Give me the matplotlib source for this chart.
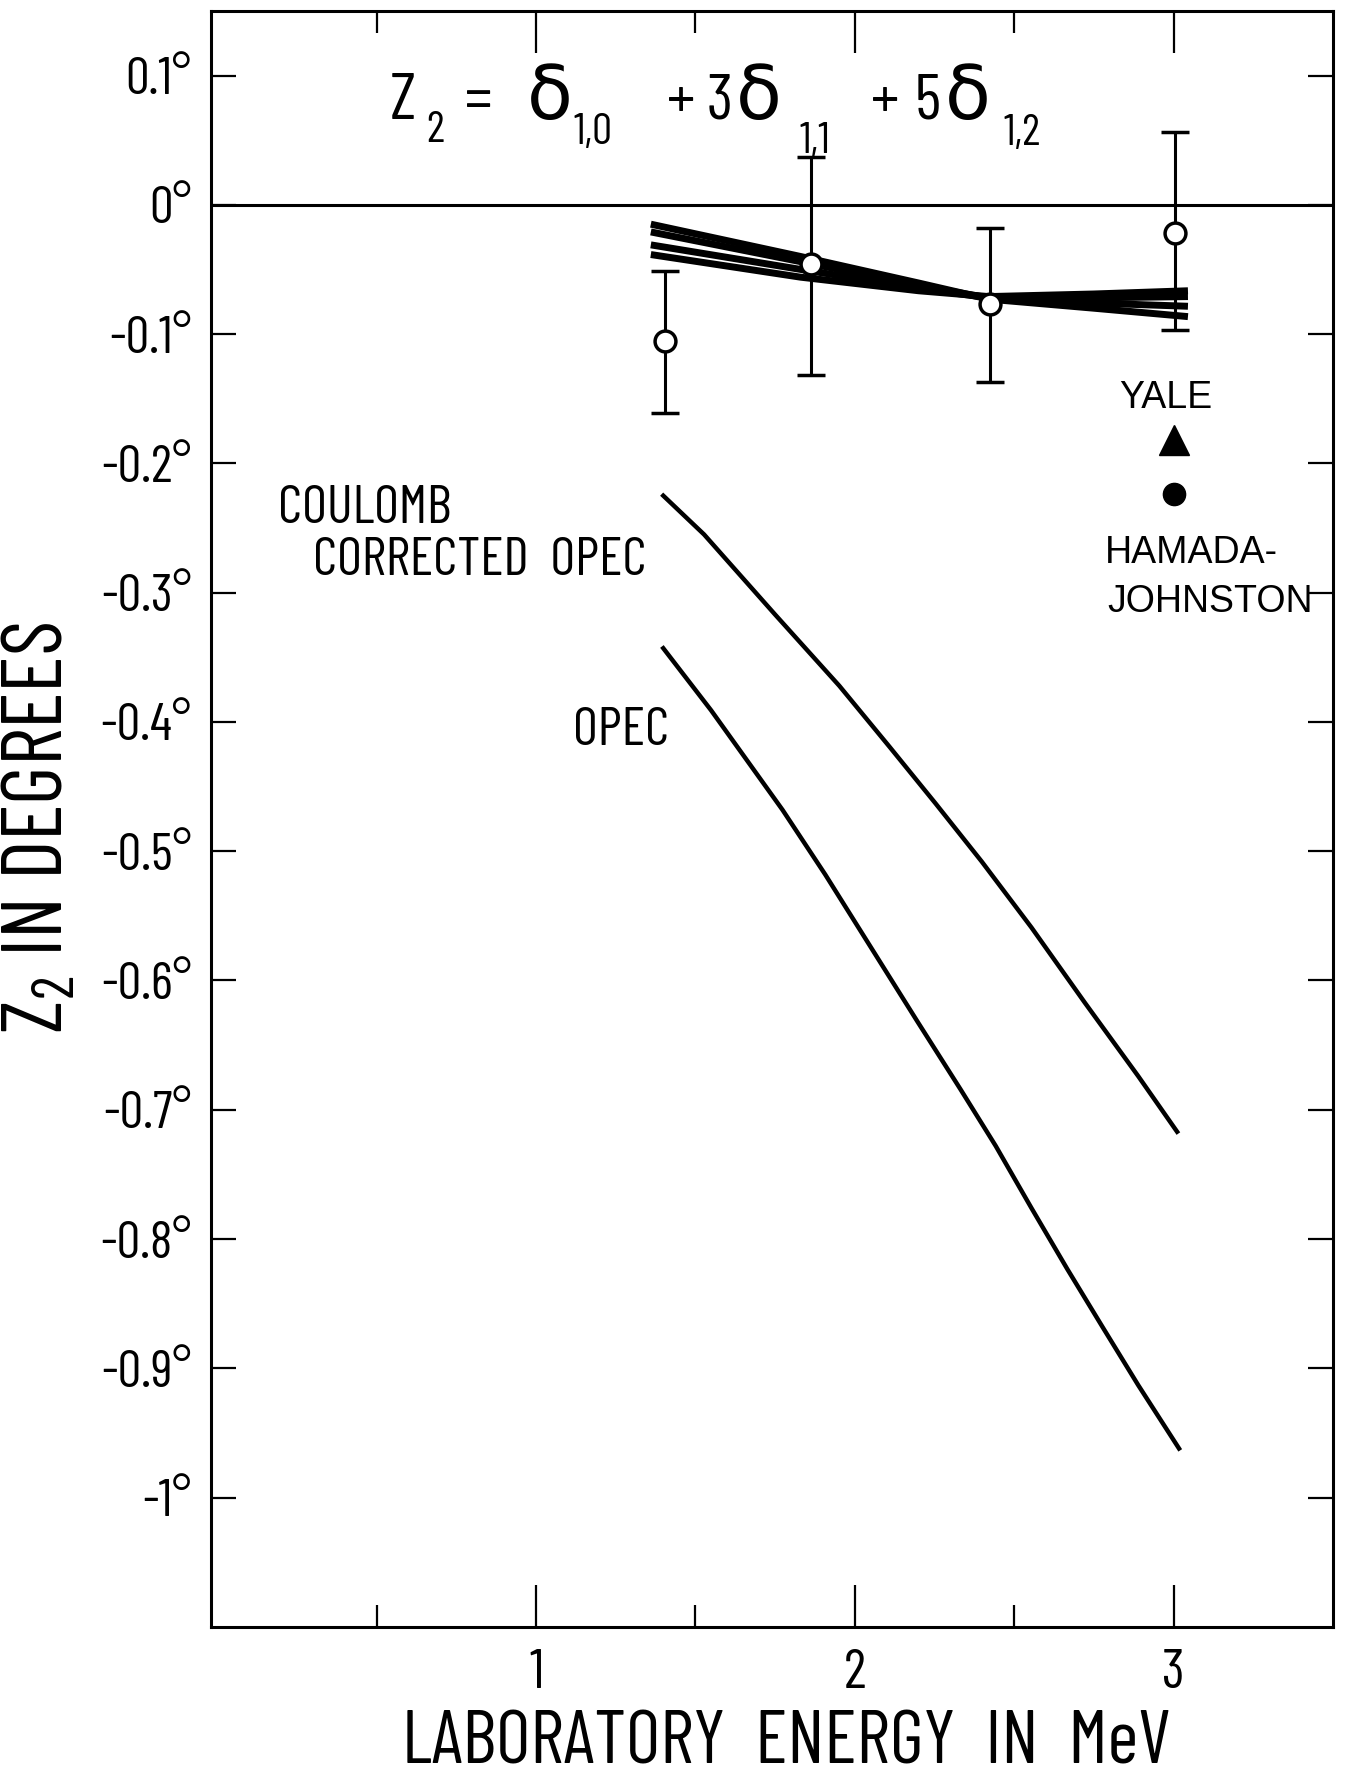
import matplotlib
matplotlib.use("Agg")
import matplotlib.pyplot as plt
from matplotlib import font_manager

# === Fonts: a condensed face for the hand lettering ===
names = {f.name for f in font_manager.fontManager.ttflist}
cands = ['Barlow Condensed', 'Roboto Condensed', 'Archivo Narrow', 'PT Sans Narrow',
         'Liberation Sans Narrow', 'Liberation Sans']
cond = next(c for c in cands if c in names)
plain = 'Liberation Sans'
plt.rcParams['font.family'] = [cond, 'DejaVu Sans']
plt.rcParams['font.weight'] = 'normal'
plt.rcParams['mathtext.fontset'] = 'custom'
plt.rcParams['mathtext.rm'] = cond
plt.rcParams['mathtext.it'] = cond

# === Data ===
# measured Z2 with error bars
energy_pts = [1.406, 1.863, 2.425, 3.003]
z2_pts = [-0.105, -0.046, -0.077, -0.022]
err_low = [0.056, 0.086, 0.060, 0.075]
err_high = [0.054, 0.083, 0.059, 0.078]

# bundle of phase-shift fits near zero
band_x = [1.36, 1.83, 2.20, 2.42, 2.75, 3.045]
band_a = [-0.015, -0.040, -0.0605, -0.073, -0.080, -0.0865]
band_b = [-0.021, -0.044, -0.0625, -0.072, -0.076, -0.0785]
band_c = [-0.031, -0.050, -0.0645, -0.072, -0.072, -0.071]
band_d = [-0.0385, -0.056, -0.0665, -0.071, -0.069, -0.0665]

# Coulomb corrected OPEC
coulomb_x = [1.399, 1.527, 1.750, 1.951, 2.108, 2.253, 2.398, 2.554, 2.721, 2.889, 3.011]
coulomb_y = [-0.225, -0.255, -0.317, -0.372, -0.419, -0.463, -0.508, -0.559, -0.617, -0.674, -0.717]

# OPEC
opec_x = [1.399, 1.549, 1.773, 1.907, 2.052, 2.197, 2.331, 2.442, 2.554, 2.666, 2.777, 2.889, 3.017]
opec_y = [-0.343, -0.391, -0.468, -0.518, -0.575, -0.632, -0.684, -0.728, -0.776, -0.823, -0.868, -0.913, -0.962]

# single theory points at 3 MeV
yale_x, yale_y = [3.0], [-0.182]
hj_x, hj_y = [3.0], [-0.224]

ytick_vals = [0.1, 0.0, -0.1, -0.2, -0.3, -0.4, -0.5, -0.6, -0.7, -0.8, -0.9, -1.0]
ytick_labels = ['0.1°', '0°', '-0.1°', '-0.2°', '-0.3°', '-0.4°', '-0.5°',
                '-0.6°', '-0.7°', '-0.8°', '-0.9°', '-1°']
xtick_vals = [1, 2, 3]
xtick_labels = ['1', '2', '3']
xminor_vals = [0.5, 1.5, 2.5]

# === Figure ===
fig = plt.figure(figsize=(13.47, 17.80), dpi=100)
ax = fig.add_axes([0.1566, 0.0860, 0.8330, 0.9079])
ax.set_xlim(-0.02, 3.5)
ax.set_ylim(-1.1, 0.15)

ax.axhline(0, color='black', lw=2.2, zorder=1)

for band in [band_a, band_b, band_c, band_d]:
    ax.plot(band_x, band, color='black', lw=5, solid_capstyle='butt', zorder=2)

ax.plot(coulomb_x, coulomb_y, color='black', lw=3.2, zorder=2)
ax.plot(opec_x, opec_y, color='black', lw=3.2, zorder=2)

ax.errorbar(energy_pts, z2_pts, yerr=[err_low, err_high], fmt='o', ms=15,
            mfc='white', mec='black', mew=2.5, ecolor='black', elinewidth=2.2,
            capsize=10, capthick=3, zorder=4)

ax.plot(yale_x, yale_y, marker='^', ms=22, color='black', ls='none')
ax.plot(hj_x, hj_y, marker='o', ms=16, color='black', ls='none')

# === Formula, laid out piece by piece (x, baseline y, text, size) ===
eq_pieces = [(0.540, 0.0665, 'Z', 48), (0.655, 0.0487, '2', 32), (0.777, 0.0665, '=', 44),
             (0.972, 0.0665, 'δ', 54), (1.116, 0.047, '1,0', 32),
             (1.410, 0.0665, '+', 46), (1.535, 0.0665, '3', 46), (1.628, 0.0665, 'δ', 54),
             (1.828, 0.040, '1,1', 32),
             (2.052, 0.0665, '+', 46), (2.187, 0.0665, '5', 46), (2.283, 0.0665, 'δ', 54),
             (2.468, 0.046, '1,2', 32)]
for x, y, s, size in eq_pieces:
    ax.text(x, y, s, fontsize=size, ha='left', va='baseline')

# === Curve and point labels ===
ax.text(0.19, -0.246, 'COULOMB', fontsize=39, ha='left', va='baseline')
ax.text(0.30, -0.2863, 'CORRECTED  OPEC', fontsize=39, ha='left', va='baseline')
ax.text(1.116, -0.4178, 'OPEC', fontsize=39, ha='left', va='baseline')
ax.text(2.830, -0.157, 'YALE', fontsize=27, family=[plain, 'DejaVu Sans'],
        ha='left', va='baseline')
ax.text(2.785, -0.277, 'HAMADA-', fontsize=27, family=[plain, 'DejaVu Sans'],
        ha='left', va='baseline')
ax.text(2.791, -0.315, 'JOHNSTON', fontsize=27, family=[plain, 'DejaVu Sans'],
        ha='left', va='baseline')

# === Axes styling ===
for s in ax.spines.values():
    s.set_linewidth(2.2)

ax.set_yticks(ytick_vals)
ax.set_yticklabels(ytick_labels, fontsize=38)
ax.set_xticks(xtick_vals)
ax.set_xticklabels(xtick_labels, fontsize=40)
ax.set_xticks(xminor_vals, minor=True)
ax.tick_params(axis='y', direction='in', length=18, width=1.6, right=True, pad=14)
ax.tick_params(axis='x', which='major', direction='in', length=30, width=1.6, top=True, pad=16)
ax.tick_params(axis='x', which='minor', direction='in', length=16, width=1.6, top=True)

fig.text(0.0297, 0.535, r'$\mathrm{Z_2}$ IN DEGREES', rotation=90, fontsize=61,
         ha='center', va='center')
fig.text(0.584, 0.001, 'LABORATORY  ENERGY  IN  MeV', fontsize=54,
         ha='center', va='bottom')

fig.savefig('out.png', dpi=100)
